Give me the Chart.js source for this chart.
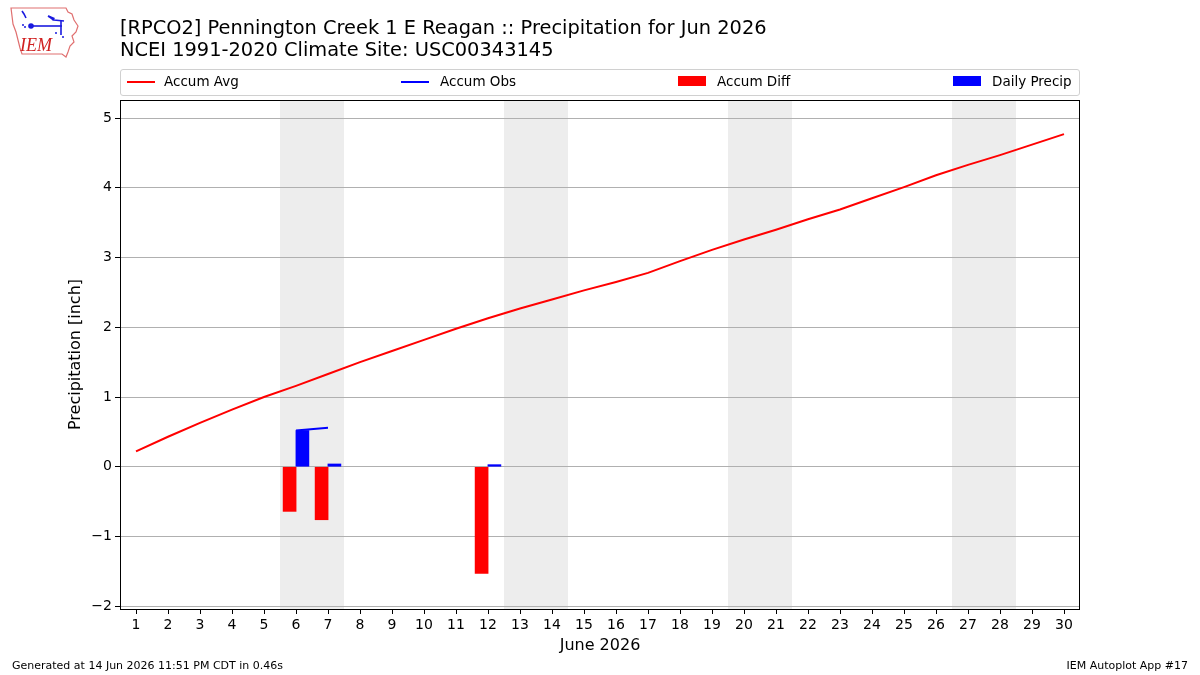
<!DOCTYPE html>
<html>
<head>
<meta charset="utf-8">
<script src="https://cdn.jsdelivr.net/npm/chart.js@4/dist/chart.umd.min.js"></script>
<style>
  html, body { margin: 0; padding: 0; background: #fff; }
  body { width: 1200px; height: 675px; position: relative; overflow: hidden; font-family: "DejaVu Sans", sans-serif; }
  #wrap { position: absolute; left: 0; top: 0; width: 1200px; height: 675px; }
  .t { position: absolute; white-space: nowrap; color: #000; }
  #legend { position: absolute; left: 120px; top: 69px; width: 958px; height: 25px; border: 1px solid #d0d0d0; border-radius: 3px; background: #fff; }
  .li { position: absolute; top: -1px; height: 25px; font-size: 13.5px; line-height: 25px; }
  .sw-line { position: absolute; top: 11px; width: 28px; height: 2px; }
  .sw-box { position: absolute; top: 6px; width: 28px; height: 10px; }
</style>
</head>
<body>
<div id="wrap"><canvas id="c" width="1200" height="675"></canvas></div>

<svg style="position:absolute;left:8px;top:4px" width="72" height="56" viewBox="0 0 72 56">
  <path d="M3,4 L58,4 L60,8 L64,10 L66,16 L70,22 L68,28 L64,32 L66,38 L62,42 L60,48 L58,53 L54,50 L14,50 L12,44 L10,36 L8,28 L5,20 L4,12 Z" fill="#fff" stroke="#e07070" stroke-width="1.2"/>
  <g stroke="#1a1adf" stroke-width="1.6" fill="none">
    <path d="M14,7 L16,10 L18,14"/>
    <path d="M23,22 L54,22"/>
    <path d="M40,12 L46,16 L56,17"/>
    <path d="M53,17 L53,31"/>
  </g>
  <path d="M40,11 L47,14 L45,17 Z" fill="#1a1adf"/>
  <circle cx="23" cy="22" r="2.8" fill="#1a1adf"/>
  <circle cx="15" cy="21" r="1" fill="#1a1adf"/>
  <circle cx="17" cy="23" r="1" fill="#1a1adf"/>
  <circle cx="48" cy="29" r="1" fill="#1a1adf"/>
  <circle cx="55" cy="33" r="1" fill="#1a1adf"/>
  <text x="12" y="47" font-family="Liberation Serif, serif" font-style="italic" font-size="18" fill="#d02020">IEM</text>
</svg>

<div class="t" style="left:120px;top:16px;font-size:19.4px;">[RPCO2] Pennington Creek 1 E Reagan :: Precipitation for Jun 2026</div>
<div class="t" style="left:120px;top:38px;font-size:19.4px;">NCEI 1991-2020 Climate Site: USC00343145</div>

<div id="legend">
  <div class="sw-line" style="left:6px;background:#ff0000"></div>
  <div class="li" style="left:43px">Accum Avg</div>
  <div class="sw-line" style="left:280px;background:#0000ff"></div>
  <div class="li" style="left:319px">Accum Obs</div>
  <div class="sw-box" style="left:557px;background:#ff0000"></div>
  <div class="li" style="left:596px">Accum Diff</div>
  <div class="sw-box" style="left:832px;background:#0000ff"></div>
  <div class="li" style="left:871px">Daily Precip</div>
</div>

<div class="t" style="left:12px;top:659px;font-size:11px;">Generated at 14 Jun 2026 11:51 PM CDT in 0.46s</div>
<div class="t" style="right:12px;top:659px;font-size:11px;">IEM Autoplot App #17</div>

<script>
// ---- data ----
const days = [1,2,3,4,5,6,7,8,9,10,11,12,13,14,15,16,17,18,19,20,21,22,23,24,25,26,27,28,29,30];
const accumAvg = [0.22,0.43,0.63,0.82,1.00,1.16,1.33,1.50,1.66,1.82,1.98,2.13,2.27,2.40,2.53,2.65,2.78,2.95,3.11,3.26,3.40,3.55,3.69,3.85,4.01,4.18,4.33,4.47,4.62,4.77];
const obsDays = [6,7,12];
const accumObs = [0.52,0.56,0.59];
const accumDiff = [-0.64,-0.76,-1.53];
const dailyPrecip = [0.52,0.04,0.03];
const weekendStart = [6,13,20,27];
const yTicks = [-2,-1,0,1,2,3,4,5];
const xTicks = days;

// ---- build datasets ----
const avgPts = days.map((d,i) => ({x:d, y:accumAvg[i]}));
const obsPts = days.map(d => {
  const k = obsDays.indexOf(d);
  return {x:d, y: k >= 0 ? accumObs[k] : null};
});
const diffPts = obsDays.map((d,i) => ({x:d-0.2, y:accumDiff[i]}));
const dailyPts = obsDays.map((d,i) => ({x:d+0.2, y:dailyPrecip[i]}));

const shadePlugin = {
  id: 'shade',
  beforeDraw(chart) {
    const {ctx, chartArea, scales:{x}} = chart;
    ctx.save();
    ctx.fillStyle = '#ededed';
    weekendStart.forEach(d => {
      const x0 = x.getPixelForValue(d - 0.5), x1 = x.getPixelForValue(d + 1.5);
      ctx.fillRect(x0, chartArea.top, x1 - x0, chartArea.bottom - chartArea.top);
    });
    ctx.restore();
  }
};
const framePlugin = {
  id: 'frame',
  afterDraw(chart) {
    const {ctx, chartArea:a} = chart;
    ctx.save();
    ctx.strokeStyle = '#000';
    ctx.lineWidth = 1;
    ctx.strokeRect(Math.round(a.left)+0.5, Math.round(a.top)+0.5, Math.round(a.right-a.left)-1, Math.round(a.bottom-a.top));
    ctx.restore();
  }
};

Chart.defaults.font.family = '"DejaVu Sans", sans-serif';
Chart.defaults.color = '#000';

new Chart(document.getElementById('c'), {
  type: 'bar',
  data: {
    datasets: [
      {type:'line', label:'Accum Avg', data: avgPts, borderColor:'#ff0000', borderWidth:2, pointRadius:0, fill:false, order:0, tension:0},
      {type:'line', label:'Accum Obs', data: obsPts, borderColor:'#0000ff', borderWidth:2, pointRadius:0, fill:false, order:0, spanGaps:false, tension:0},
      {type:'bar', label:'Accum Diff', data: diffPts, backgroundColor:'#ff0000', borderWidth:0, barThickness:13, grouped:false, order:1},
      {type:'bar', label:'Daily Precip', data: dailyPts, backgroundColor:'#0000ff', borderWidth:0, barThickness:13, grouped:false, order:1}
    ]
  },
  options: {
    responsive: false,
    animation: false,
    devicePixelRatio: 1,
    layout: { padding: {left: 56, right: 120, top: 100, bottom: 0} },
    plugins: { legend: {display:false}, tooltip: {enabled:false}, title: {display:false} },
    scales: {
      x: {
        type: 'linear', min: 0.5, max: 30.5, offset: false,
        afterFit(s) { s.height = 66; },
        afterBuildTicks(s) { s.ticks = xTicks.map(v => ({value: v})); },
        ticks: { autoSkip:false, maxRotation:0, font:{size:14}, padding:3, callback: v => String(v) },
        grid: { offset:false, drawOnChartArea:false, tickLength:5, tickColor:'#000', color:'#000' },
        border: { display:false },
        title: { display:true, text:'June 2026', font:{size:16}, padding:{top:0, bottom:20} }
      },
      y: {
        type: 'linear', min: -2.04, max: 5.26,
        afterFit(s) { s.width = 64; },
        afterBuildTicks(s) { s.ticks = yTicks.map(v => ({value: v})); },
        ticks: { font:{size:14}, padding:3, callback: v => (v < 0 ? '\u2212' + Math.abs(v) : String(v)) },
        grid: { offset:false, color:'#b0b0b0', lineWidth:1, tickLength:5, tickColor:'#000' },
        border: { display:false },
        title: { display:true, text:'Precipitation [inch]', font:{size:16}, padding:{top:10, bottom:0} }
      }
    }
  },
  plugins: [shadePlugin, framePlugin]
});
</script>
</body>
</html>
